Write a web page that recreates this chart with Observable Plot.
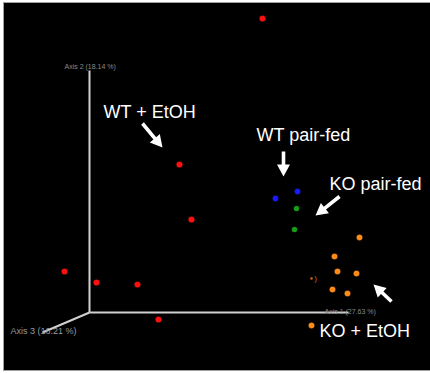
<!DOCTYPE html>
<html>
<head>
<meta charset="utf-8">
<script src="https://cdn.jsdelivr.net/npm/d3@7"></script>
<script src="https://cdn.jsdelivr.net/npm/@observablehq/plot@0.6"></script>
<style>
  html, body { margin: 0; padding: 0; background: #fff; }
  #wrap { position: relative; width: 430px; height: 373px; overflow: hidden; }
  #panel { position: absolute; left: 3px; top: 2px; width: 427px; height: 369px;
           background: #000; border-left: 1px solid #a0a0a0; border-top: 1px solid #a0a0a0;
           border-bottom: 1px solid #a0a0a0; box-sizing: border-box; }
  #chart { position: absolute; left: 0; top: 0; }
</style>
</head>
<body>
<div id="wrap"><div id="panel"></div><div id="chart"></div></div>
<script>
// Projected 3-D PCoA coordinates (screen-projected units)
const groups = ["WT + EtOH", "WT pair-fed", "KO pair-fed", "KO + EtOH"];
const groupColors = ["#ff1010", "#1a1aff", "#16a016", "#ff8c1a"];
const wtEtohX = [262, 179, 191, 64, 96, 137, 158];
const wtEtohY = [18, 164, 219, 271, 282, 284, 319];
const wtPairX = [275, 297];
const wtPairY = [198, 191];
const koPairX = [296, 294];
const koPairY = [208, 229];
const koEtohX = [359, 334, 337, 356, 332, 347, 311];
const koEtohY = [237, 256, 271, 273, 289, 293, 325];
const hiddenX = [311];
const hiddenY = [278];

// 3-D axes (origin and ends of the three axes)
const axisNames = ["Axis 1 (27.63 %)", "Axis 2 (18.14 %)", "Axis 3 (16.21 %)"];
const axisOrigin = [89, 312];
const axisEndX = [348, 89, 42];
const axisEndY = [312, 70, 332];
const axisLabelX = [324, 64, 10];
const axisLabelY = [311, 66, 331];
const axisLabelSize = [7, 7, 9];

// Annotations
const labelText = groups;
const labelX = [103, 256, 329, 319];
const labelY = [117, 140, 189, 336];
const arrowTailX = [142, 283, 339, 391];
const arrowTailY = [123, 151, 196, 301];
const arrowTipX = [162, 283, 315, 373];
const arrowTipY = [147, 176, 215, 284];

const sizes = [3.6, 3.3, 2.9, 3.4];
const pts = [];
[[wtEtohX, wtEtohY], [wtPairX, wtPairY], [koPairX, koPairY], [koEtohX, koEtohY]].forEach(([xs, ys], g) => {
  xs.forEach((x, i) => pts.push({x, y: ys[i], group: groups[g], r: sizes[g]}));
});
const hidden = hiddenX.map((x, i) => ({x, y: hiddenY[i]}));

const axes = axisNames.map((name, i) => ({
  name, x1: axisOrigin[0], y1: axisOrigin[1], x2: axisEndX[i], y2: axisEndY[i],
  lx: axisLabelX[i], ly: axisLabelY[i], fs: axisLabelSize[i]
}));
const labels = labelText.map((t, i) => ({t, x: labelX[i], y: labelY[i]}));
const arrows = arrowTailX.map((x, i) => {
  const dx = arrowTipX[i] - x, dy = arrowTipY[i] - arrowTailY[i];
  return {x: arrowTipX[i], y: arrowTipY[i], len: Math.hypot(dx, dy),
          rot: Math.atan2(dx, -dy) * 180 / Math.PI};
});

const arrowShape = {
  draw(context, l) {
    const hw = 6.5, hl = 12, sw = 1.8;
    context.moveTo(-sw, 0);
    context.lineTo(-sw, -l + hl);
    context.lineTo(-hw, -l + hl);
    context.lineTo(0, -l);
    context.lineTo(hw, -l + hl);
    context.lineTo(sw, -l + hl);
    context.lineTo(sw, 0);
    context.closePath();
  }
};

const chart = Plot.plot({
  width: 430, height: 373, margin: 0,
  style: {background: "transparent", fontFamily: "Liberation Sans, Arial, sans-serif"},
  x: {domain: [0, 430], range: [0, 430], axis: null},
  y: {domain: [0, 373], range: [0, 373], axis: null},
  length: {type: "identity"},
  color: {domain: groups, range: groupColors},
  marks: [
    Plot.link(axes, {x1: "x1", y1: "y1", x2: "x2", y2: "y2", stroke: "#d0d0d0", strokeWidth: 2}),
    Plot.text(axes.filter(d => d.fs === 7), {x: "lx", y: "ly", text: "name", fill: "#8a8a8a", fontSize: 7, textAnchor: "start"}),
    Plot.text(axes.filter(d => d.fs === 9), {x: "lx", y: "ly", text: "name", fill: "#9a9a9a", fontSize: 9, textAnchor: "start"}),
    Plot.dot(pts, {x: "x", y: "y", r: d => d.r + 1.2, fill: "group", fillOpacity: 0.35}),
    Plot.dot(pts, {x: "x", y: "y", r: "r", fill: "group"}),
    Plot.dot(hidden, {x: "x", y: "y", r: 1.3, fill: "#c86a10"}),
    Plot.text(hidden, {x: d => d.x + 4, y: "y", text: d => ")", fill: "#c86a10", fontSize: 8}),
    Plot.text(labels, {x: "x", y: "y", text: "t", fill: "#fff", fontSize: 18, textAnchor: "start", lineAnchor: "bottom"}),
    Plot.vector(arrows, {x: "x", y: "y", length: "len", rotate: "rot", anchor: "end", shape: arrowShape, fill: "#fff", stroke: "none"})
  ]
});
chart.setAttribute("width", 430);
chart.setAttribute("height", 373);
document.getElementById("chart").appendChild(chart);
</script>
</body>
</html>
